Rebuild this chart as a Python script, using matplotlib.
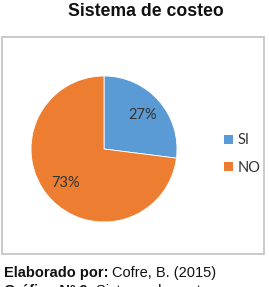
import matplotlib
matplotlib.use("Agg")
import matplotlib.pyplot as plt
from matplotlib.patches import Rectangle, Patch

categories = ["SI", "NO"]
values = [27, 73]
colors = ["#5B9BD5", "#ED7D31"]
title = "Sistema de costeo"
credit_bold = "Elaborado por:"
credit_text = "Cofre, B. (2015)"
caption_bold = "Gráfico Nº 9:"
caption_text = "Sistema de costeo"

W, H = 269, 287
fig = plt.figure(figsize=(W / 100, H / 100), dpi=100)
fig.patch.set_facecolor("white")

# chart area border
fig.patches.append(Rectangle((2 / W, 1 - 254 / H), 262 / W, (254 - 37) / H,
                             transform=fig.transFigure, fill=False,
                             edgecolor="#c6c6c6", linewidth=1.3))

fig.text(146 / W, 1 - 12 / H, title, ha="center", va="center",
         fontsize=12.7, fontweight="bold", family="Liberation Sans", color="#111111")

ax = fig.add_axes([31 / W, 1 - 222 / H, 146 / W, 146 / H])
wedges, texts, autotexts = ax.pie(values, colors=colors, startangle=90, counterclock=False,
                                  autopct="%d%%", pctdistance=0.7, radius=1,
                                  wedgeprops=dict(linewidth=0.6, edgecolor="white"),
                                  textprops=dict(fontsize=10.5, family="Lato", color="#333333"))
ax.set_xlim(-1, 1)
ax.set_ylim(-1, 1)
ax.set_aspect("auto")
ax.axis("off")

handles = [Patch(facecolor=c, edgecolor="none") for c in colors]
fig.legend(handles, categories, loc="center left", bbox_to_anchor=(211 / W, 1 - 154 / H),
           frameon=False, handlelength=0.6, handleheight=0.6, handletextpad=0.3,
           labelspacing=0.9, prop=dict(family="Lato", size=10.5), labelcolor="#333333")

t1 = fig.text(4 / W, 1 - 273 / H, credit_bold, ha="left", va="center",
              fontsize=10.5, fontweight="bold", family="Liberation Sans", color="#111111")
fig.canvas.draw()
bb = t1.get_window_extent()
fig.text((bb.x1 + 3) / W, 1 - 273 / H, credit_text, ha="left", va="center",
         fontsize=10.5, family="Liberation Sans", color="#111111")

t2 = fig.text(4 / W, 1 - 291 / H, caption_bold, ha="left", va="center",
              fontsize=10.5, fontweight="bold", family="Liberation Sans", color="#111111")
fig.canvas.draw()
bb2 = t2.get_window_extent()
fig.text((bb2.x1 + 3) / W, 1 - 291 / H, caption_text, ha="left", va="center",
         fontsize=10.5, family="Liberation Sans", color="#111111")

fig.savefig("out.png", dpi=100)
